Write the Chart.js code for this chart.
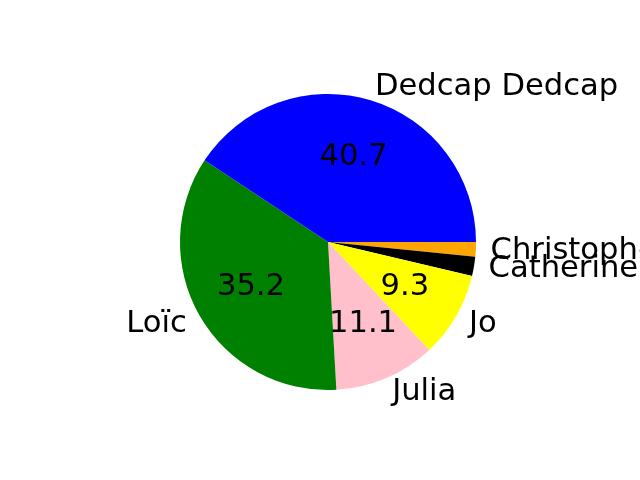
<!DOCTYPE html>
<html>
<head>
<meta charset="utf-8">
<script src="https://cdn.jsdelivr.net/npm/chart.js@4"></script>
<style>
  html, body { margin: 0; padding: 0; background: #fff; }
  canvas { display: block; }
</style>
</head>
<body>
<canvas id="pie" width="640" height="480"></canvas>
<script>
// Slices listed clockwise from 3 o'clock (the reference runs counter-clockwise
// from 3 o'clock, so the order is reversed here).
const names = ['Christophe', 'Catherine', 'Jo', 'Julia', 'Loïc', 'Dedcap Dedcap'];
const shares = [1.6, 2.1, 9.3, 11.1, 35.2, 40.7];
const pctLabels = ['', '', '9.3', '11.1', '35.2', '40.7'];
const sliceColors = ['#ffa500', '#000000', '#ffff00', '#ffc0cb', '#008000', '#0000ff'];

const FONT_SIZE = 30.6;
const FONT = FONT_SIZE + 'px "DejaVu Sans"';
// matplotlib centres text on the "lp" box, which sits ~0.276 em above the baseline
const CENTER_SHIFT = 0.276 * FONT_SIZE;

// Matplotlib-style text: names at 1.1 r (left/right aligned by side),
// percentages centred at 0.6 r.
const pieText = {
  id: 'pieText',
  afterDatasetsDraw(chart) {
    const { ctx } = chart;
    const arcs = chart.getDatasetMeta(0).data;
    ctx.save();
    ctx.font = FONT;
    ctx.fillStyle = '#000';
    ctx.textBaseline = 'alphabetic';
    arcs.forEach((arc, i) => {
      const { x, y, startAngle, endAngle, outerRadius } = arc.getProps(
        ['x', 'y', 'startAngle', 'endAngle', 'outerRadius'], true);
      const mid = (startAngle + endAngle) / 2;
      const c = Math.cos(mid);
      const s = Math.sin(mid);

      ctx.textAlign = c > 0 ? 'left' : 'right';
      ctx.fillText(names[i], x + 1.1 * outerRadius * c,
        y + 1.1 * outerRadius * s + CENTER_SHIFT);

      if (pctLabels[i]) {
        ctx.textAlign = 'center';
        ctx.fillText(pctLabels[i], x + 0.6 * outerRadius * c,
          y + 0.6 * outerRadius * s + CENTER_SHIFT);
      }
    });
    ctx.restore();
  },
};

new Chart(document.getElementById('pie').getContext('2d'), {
  type: 'pie',
  data: {
    labels: names,
    datasets: [{
      data: shares,
      backgroundColor: sliceColors,
      borderWidth: 0,
    }],
  },
  options: {
    responsive: false,
    animation: false,
    rotation: 90,
    layout: { padding: { left: 180, right: 164, top: 94, bottom: 90 } },
    plugins: {
      legend: { display: false },
      tooltip: { enabled: false },
    },
  },
  plugins: [pieText],
});
</script>
</body>
</html>
